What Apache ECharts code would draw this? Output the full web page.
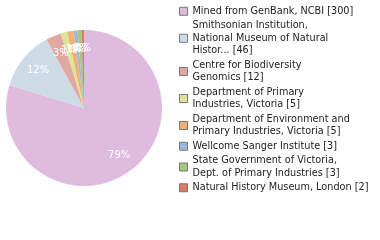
<!DOCTYPE html>
<html><head><meta charset="utf-8">
<script src="https://cdn.jsdelivr.net/npm/echarts@6/dist/echarts.min.js"></script>
<style>html,body{margin:0;padding:0;background:#fff}#c{width:380px;height:240px}</style>
</head><body><div id="c"></div>
<script>
const names = [
  "Mined from GenBank, NCBI [300]",
  "Smithsonian Institution,\nNational Museum of Natural\nHistor... [46]",
  "Centre for Biodiversity\nGenomics [12]",
  "Department of Primary\nIndustries, Victoria [5]",
  "Department of Environment and\nPrimary Industries, Victoria [5]",
  "Wellcome Sanger Institute [3]",
  "State Government of Victoria,\nDept. of Primary Industries [3]",
  "Natural History Museum, London [2]"
];
const values = [300, 46, 12, 5, 5, 3, 3, 2];
const colors = ["#dfbcdf", "#cddbe6", "#e0a8a0", "#dde39b", "#f0b173", "#9cb9dd", "#a4c97c", "#e07a62"];
const total = values.reduce((a, b) => a + b, 0);
const CX = 84, CY = 108, R = 78, LABEL_R = 0.76;
// mid-angles (clockwise from 12 o'clock) for label placement
const mids = [];
let acc = 0;
values.forEach(v => { const a = v / total * 2 * Math.PI; mids.push(acc + a / 2); acc += a; });
const chart = echarts.init(document.getElementById('c'), null, {renderer: 'canvas'});
chart.setOption({
  animation: false,
  color: colors,
  legend: {
    orient: 'vertical', left: 174, top: 0, itemWidth: 8, itemHeight: 8, itemGap: 2,
    icon: 'rect', selectedMode: false,
    itemStyle: {borderColor: '#777', borderWidth: 1},
    textStyle: {fontFamily: 'DejaVu Sans', fontSize: 9.7, color: '#222', lineHeight: 12.5},
    data: names
  },
  series: [{
    type: 'pie', center: [CX, CY], radius: R, startAngle: 90, clockwise: true,
    avoidLabelOverlap: false, minShowLabelAngle: 0,
    label: {show: true, position: 'inside', color: '#fff', fontFamily: 'DejaVu Sans', fontSize: 10,
      formatter: p => Math.floor(p.value / total * 100) + '%'},
    labelLayout: p => ({
      x: CX + Math.sin(mids[p.dataIndex]) * R * LABEL_R,
      y: CY - Math.cos(mids[p.dataIndex]) * R * LABEL_R,
      align: 'center', verticalAlign: 'middle', hideOverlap: false
    }),
    labelLine: {show: false},
    itemStyle: {borderWidth: 0},
    emphasis: {disabled: true},
    data: names.map((n, i) => ({name: n, value: values[i]}))
  }]
});
</script></body></html>
